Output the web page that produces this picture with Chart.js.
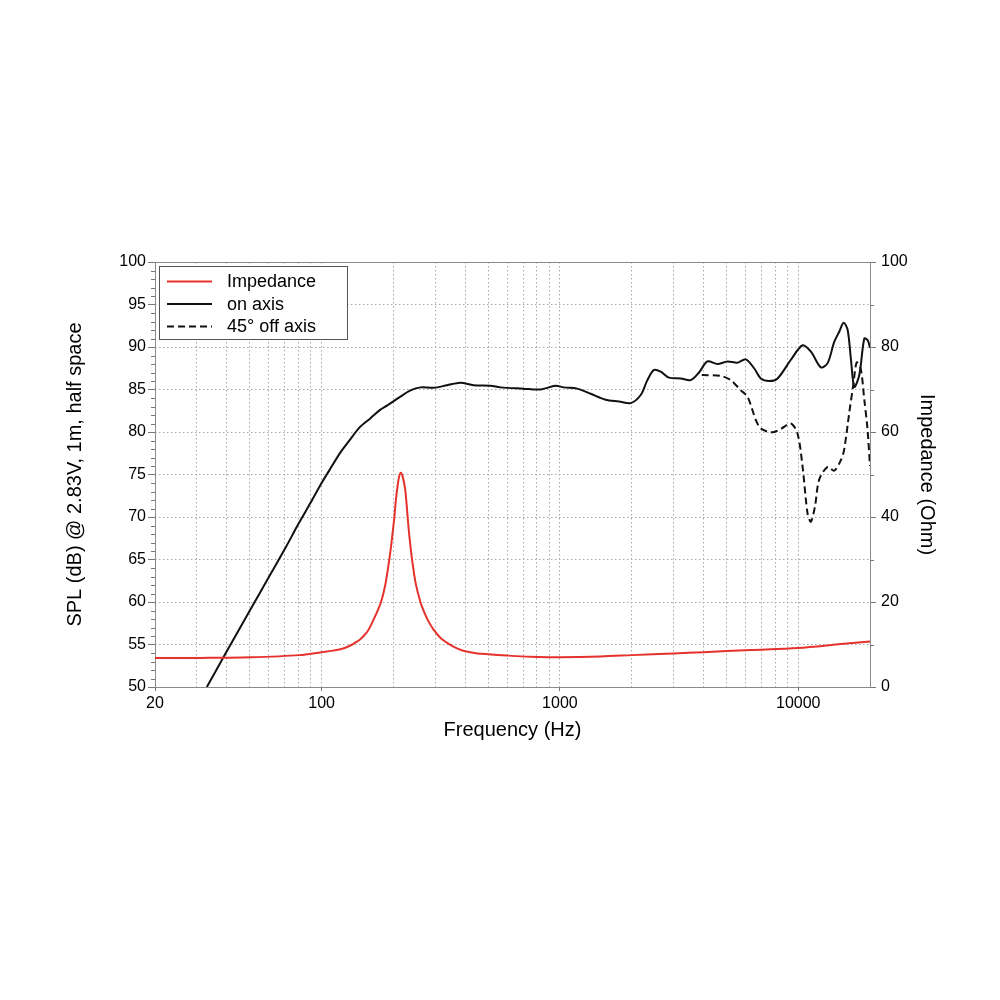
<!DOCTYPE html>
<html>
<head>
<meta charset="utf-8">
<script src="https://cdn.jsdelivr.net/npm/chart.js@4.4.0/dist/chart.umd.min.js"></script>
<style>
  html, body { margin: 0; padding: 0; background: #fff; }
</style>
</head>
<body>
<canvas id="freqChart" width="1000" height="1000"></canvas>
<script>
// tick positions on the log frequency axis (grid lines), and the ones that get a label
const xTicks = [20, 30, 40, 50, 60, 70, 80, 90, 100, 200, 300, 400, 500, 600, 700, 800, 900,
    1000, 2000, 3000, 4000, 5000, 6000, 7000, 8000, 9000, 10000, 20000];
const xLabels = [20, 100, 1000, 10000];

// impedance (Ohm, right axis)
const impFreq = [20, 31, 50, 81, 100, 110, 120, 128, 134.5, 140, 145, 150, 155.5, 160, 165, 171,
    177.6, 185, 192.4, 197, 202, 205, 208, 211.5, 215, 219, 224, 227, 229.6, 234, 239.7, 248,
    259.8, 270, 280.5, 295, 315, 330, 347, 370, 400, 450, 500, 600, 753, 914, 1000, 1482, 2000,
    3000, 4000, 6320, 10000, 15100, 20000];
const impOhm = [6.8, 6.85, 7.0, 7.5, 8.2, 8.5, 8.9, 9.4, 10.0, 10.6, 11.2, 12.0, 13.0, 14.2,
    15.8, 17.7, 20.0, 24.0, 30.0, 34.5, 40.0, 44.0, 47.0, 49.5, 50.4, 49.5, 46.7, 43.5, 40.0,
    35.0, 30.0, 24.5, 20.0, 17.5, 15.5, 13.5, 11.6, 10.7, 9.9, 9.1, 8.4, 7.9, 7.7, 7.4, 7.1,
    7.0, 7.0, 7.2, 7.5, 7.9, 8.2, 8.7, 9.2, 10.1, 10.7];

// on axis SPL (dB, left axis)
const onFreq = [33, 40, 50, 60, 70, 80, 90, 100, 110, 120, 130, 145, 160, 176, 188, 200, 215,
    236, 260, 295, 336, 382, 434, 511, 563, 700, 829, 958, 1039, 1182, 1345, 1555, 1769, 1981,
    2182, 2328, 2481, 2648, 2868, 3212, 3539, 3834, 4157, 4581, 5047, 5560, 6025, 6528, 6966,
    7548, 8187, 9312, 10428, 11302, 12447, 13282, 14157, 14859, 15504, 16117, 16643, 17182,
    18037, 18928, 19560, 20000];
const onDb = [50.0, 54.2, 59.0, 62.9, 66.2, 69.2, 71.7, 74.0, 75.9, 77.6, 78.9, 80.6, 81.6, 82.6,
    83.1, 83.6, 84.2, 84.9, 85.25, 85.2, 85.5, 85.8, 85.5, 85.45, 85.25, 85.1, 85.0, 85.45,
    85.25, 85.1, 84.5, 83.8, 83.6, 83.4, 84.35, 86.1, 87.3, 87.1, 86.4, 86.3, 86.1, 87.0, 88.3,
    88.0, 88.3, 88.15, 88.55, 87.5, 86.3, 86.0, 86.3, 88.5, 90.2, 89.45, 87.6, 88.1, 90.6, 91.8,
    92.85, 92.0, 88.5, 85.3, 86.7, 91.0, 90.8, 89.9];

// 45 deg off axis SPL (dB, left axis)
const offFreq = [3936, 4732, 5214, 5743, 6124, 6641, 6966, 7548, 7923, 8500, 9312, 9934, 10428,
    10942, 11302, 11746, 12242, 13282, 14157, 15100, 15577, 16355, 17030, 17600, 18295, 18928,
    19500, 20000];
const offDb = [86.7, 86.6, 86.1, 84.9, 84.15, 81.4, 80.4, 80.0, 80.0, 80.4, 81.0, 79.8, 75.9,
    70.4, 69.45, 71.2, 74.4, 75.9, 75.45, 76.7, 77.9, 82.2, 85.6, 88.2, 87.4, 83.8, 80.5, 76.0];

const fontFamily = "'Liberation Sans', Arial, Helvetica, sans-serif";
const redColor = '#e5322d';
const blackColor = '#111111';
const gridColor = '#a8a8a8';
const frameColor = '#8a8a8a';

function points(xs, ys) {
    return xs.map((x, i) => ({ x: x, y: ys[i] }));
}

// frame, legend box and minor ticks
const extras = {
    id: 'extras',
    beforeDatasetsDraw(chart) {
        const a = chart.chartArea;
        const c = chart.ctx;
        c.save();
        c.strokeStyle = frameColor;
        c.lineWidth = 1;
        c.setLineDash([]);
        c.strokeRect(Math.round(a.left) + 0.5, Math.round(a.top) + 0.5,
            Math.round(a.right - a.left), Math.round(a.bottom - a.top));
        c.restore();
    },
    afterDatasetsDraw(chart) {
        const c = chart.ctx;
        const items = [
            { text: 'Impedance', color: redColor, dash: [] },
            { text: 'on axis', color: blackColor, dash: [] },
            { text: '45° off axis', color: blackColor, dash: [7, 4] }
        ];
        c.save();
        c.fillStyle = '#fff';
        c.fillRect(159, 266, 188, 73);
        c.strokeStyle = '#555';
        c.lineWidth = 1;
        c.strokeRect(159.5, 266.5, 188, 73);
        items.forEach((it, i) => {
            const y = 281.5 + i * 22.5;
            c.strokeStyle = it.color;
            c.lineWidth = 2;
            c.setLineDash(it.dash);
            c.beginPath();
            c.moveTo(167, y);
            c.lineTo(212, y);
            c.stroke();
            c.setLineDash([]);
            c.fillStyle = '#000';
            c.font = '18px ' + fontFamily;
            c.textBaseline = 'middle';
            c.fillText(it.text, 227, y + 1);
        });
        c.restore();
    },
    afterDraw(chart) {
        const c = chart.ctx;
        const y = chart.scales.y;
        const y1 = chart.scales.y1;
        c.save();
        c.strokeStyle = '#777';
        c.lineWidth = 1;
        for (let v = 51; v < 100; v++) {
            if (v % 5 === 0) continue;
            const py = Math.round(y.getPixelForValue(v)) + 0.5;
            c.beginPath();
            c.moveTo(y.right - 4, py);
            c.lineTo(y.right, py);
            c.stroke();
        }
        for (let v = 10; v < 100; v += 20) {
            const py = Math.round(y1.getPixelForValue(v)) + 0.5;
            c.beginPath();
            c.moveTo(y1.left, py);
            c.lineTo(y1.left + 4, py);
            c.stroke();
        }
        c.restore();
    }
};

const ctx = document.getElementById('freqChart');

new Chart(ctx, {
    type: 'line',
    data: {
        datasets: [{
            label: 'Impedance',
            data: points(impFreq, impOhm),
            yAxisID: 'y1',
            borderColor: redColor,
            borderWidth: 2,
            pointRadius: 0,
            fill: false,
            tension: 0.3
        }, {
            label: 'on axis',
            data: points(onFreq, onDb),
            yAxisID: 'y',
            borderColor: blackColor,
            borderWidth: 2,
            pointRadius: 0,
            fill: false,
            tension: 0.3
        }, {
            label: '45° off axis',
            data: points(offFreq, offDb),
            yAxisID: 'y',
            borderColor: blackColor,
            borderWidth: 2,
            borderDash: [7, 4],
            pointRadius: 0,
            fill: false,
            tension: 0.3
        }]
    },
    options: {
        responsive: false,
        animation: false,
        layout: { padding: { top: 262, left: 0, right: 0, bottom: 0 } },
        plugins: {
            legend: { display: false },
            tooltip: { enabled: false }
        },
        scales: {
            x: {
                type: 'logarithmic',
                min: 20,
                max: 20000,
                afterBuildTicks: (scale) => {
                    scale.ticks = xTicks.map(v => ({ value: v }));
                },
                afterFit: (scale) => { scale.height = 313; },
                ticks: {
                    autoSkip: false,
                    maxRotation: 0,
                    padding: 3,
                    color: '#000',
                    font: { family: fontFamily, size: 16 },
                    callback: (value) => xLabels.includes(value) ? String(value) : ''
                },
                grid: {
                    color: gridColor,
                    lineWidth: 1,
                    tickLength: 4,
                    tickColor: (c) => (c.tick && xLabels.includes(c.tick.value)) ? '#777' : 'rgba(0,0,0,0)'
                },
                border: { display: false, dash: [1.5, 2.5] },
                title: {
                    display: true,
                    text: 'Frequency (Hz)',
                    color: '#000',
                    font: { family: fontFamily, size: 20 },
                    padding: { top: 0, bottom: 258 }
                }
            },
            y: {
                position: 'left',
                min: 50,
                max: 100,
                afterFit: (scale) => { scale.width = 155; },
                ticks: {
                    stepSize: 5,
                    padding: 2,
                    color: '#000',
                    font: { family: fontFamily, size: 16 }
                },
                grid: {
                    color: gridColor,
                    lineWidth: 1,
                    tickLength: 7,
                    tickColor: '#777'
                },
                border: { display: false, dash: [1.5, 2.5] },
                title: {
                    display: true,
                    text: 'SPL (dB) @ 2.83V, 1m, half space',
                    color: '#000',
                    font: { family: fontFamily, size: 20 },
                    padding: { top: 63, bottom: 0 }
                }
            },
            y1: {
                position: 'right',
                min: 0,
                max: 100,
                afterFit: (scale) => { scale.width = 130; },
                ticks: {
                    stepSize: 20,
                    padding: 5,
                    color: '#000',
                    font: { family: fontFamily, size: 16 }
                },
                grid: {
                    drawOnChartArea: false,
                    tickLength: 6,
                    tickColor: '#777'
                },
                border: { display: false },
                title: {
                    display: true,
                    text: 'Impedance (Ohm)',
                    color: '#000',
                    font: { family: fontFamily, size: 20 },
                    padding: { top: 61, bottom: 0 }
                }
            }
        }
    },
    plugins: [extras]
});
</script>
</body>
</html>
